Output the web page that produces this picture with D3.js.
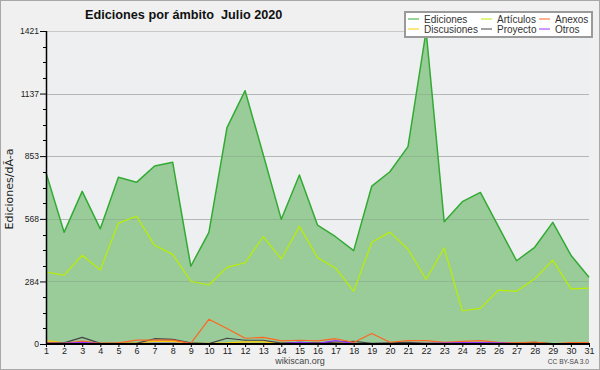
<!DOCTYPE html>
<html><head><meta charset="utf-8">
<script src="https://cdn.jsdelivr.net/npm/d3@7"></script>
<style>body{margin:0;background:#f0f0f0}svg{display:block}</style>
</head><body>
<svg id="c" width="600" height="370"></svg>
<script>
const days = d3.range(1, 32);
const ediciones = [778,507,693,523,757,734,808,825,353,507,982,1150,860,566,767,540,487,424,717,782,896,1421,555,646,688,533,378,439,552,403,303];
const articulos = [327,313,403,336,549,580,448,407,285,268,348,369,487,386,534,393,344,239,462,508,430,294,436,151,162,245,239,296,381,250,254];
const discusiones = [15,5,8,3,3,5,12,12,3,3,5,10,10,3,5,5,8,3,2,2,3,3,2,3,3,3,2,3,2,2,2];
const anexos = [5,3,13,3,5,18,18,18,3,112,70,26,30,14,17,14,24,7,48,8,15,15,7,12,15,7,5,9,1,6,6];
const proyecto = [5,5,30,3,3,3,24,21,5,2,26,17,17,4,8,5,8,12,3,5,8,3,3,3,3,3,3,8,2,2,2];
const otros = [3,3,7,2,2,2,3,3,2,2,2,2,2,2,8,3,15,2,2,2,2,3,4,6,6,5,2,2,2,2,2];
const yTicks = [0,284,568,853,1137,1421];
const title = "Ediciones por ámbito  Julio 2020";
const yLabel = "Ediciones/dÃ-a";
const legendItems = [
  {name:"Ediciones", color:"#33aa33"},
  {name:"Artículos", color:"#bbee00"},
  {name:"Anexos", color:"#ff6622"},
  {name:"Discusiones", color:"#ffcc00"},
  {name:"Proyecto", color:"#444444"},
  {name:"Otros", color:"#9933ff"}
];

const svg = d3.select("#c");
const F = "'Liberation Sans', Arial, sans-serif";
svg.append("rect").attr("x",0.5).attr("y",0.5).attr("width",599).attr("height",369)
  .attr("fill","#f0f0f0").attr("stroke","#a8a8a8");

const x = d3.scaleLinear().domain([1,31]).range([46,589]);
const y = d3.scaleLinear().domain([0,1421]).range([344,31]);

svg.append("rect").attr("x",46).attr("y",31).attr("width",543).attr("height",313).attr("fill","#eeeff1");

svg.append("g").selectAll("line").data(yTicks.slice(1)).join("line")
  .attr("x1",46).attr("x2",589).attr("y1",d=>Math.round(y(d))+0.5).attr("y2",d=>Math.round(y(d))+0.5)
  .attr("stroke","#c9c9cb").attr("stroke-width",1);

const area = d3.area().x((d,i)=>x(days[i])).y0(y(0)).y1(d=>y(d));
svg.append("path").datum(ediciones).attr("d",area).attr("fill","#99cc99");

svg.append("g").selectAll("line").data(yTicks.slice(1,-1)).join("line")
  .attr("x1",46).attr("x2",589).attr("y1",d=>Math.round(y(d))+0.5).attr("y2",d=>Math.round(y(d))+0.5)
  .attr("stroke","#747474").attr("stroke-opacity",0.22).attr("stroke-width",1);

const line = d3.line().x((d,i)=>x(days[i])).y(d=>y(d));
const series = [
  {v:ediciones, c:"#33aa33", w:1.5},
  {v:articulos, c:"#bbee00", w:1.2},
  {v:discusiones, c:"#ffcc00", w:1.2},
  {v:proyecto, c:"#444444", w:1.2},
  {v:anexos, c:"#ff6622", w:1.2},
  {v:otros, c:"#9933ff", w:1.2}
];
series.forEach(s=>{
  svg.append("path").datum(s.v).attr("d",line).attr("fill","none")
    .attr("stroke",s.c).attr("stroke-width",s.w).attr("stroke-linejoin","round");
});

const yAxis = d3.axisLeft(y).tickValues(yTicks).tickSize(6).tickPadding(1).tickFormat(d3.format("d"));
const gy = svg.append("g").attr("transform","translate(46,0)").call(yAxis);
gy.select(".domain").remove();
gy.selectAll("text").attr("font-family",F).attr("font-size",8.5).attr("fill","#222");
gy.selectAll("line").attr("stroke","#000");
const minor = [];
for (let i=0;i<yTicks.length-1;i++) for (let k=1;k<4;k++) minor.push(yTicks[i]+(yTicks[i+1]-yTicks[i])*k/4);
svg.append("g").selectAll("line").data(minor).join("line")
  .attr("x1",43).attr("x2",46).attr("y1",d=>Math.round(y(d))+0.5).attr("y2",d=>Math.round(y(d))+0.5)
  .attr("stroke","#000");
svg.append("line").attr("x1",46.5).attr("x2",46.5).attr("y1",31).attr("y2",345).attr("stroke","#000").attr("stroke-width",1.5);

const xAxis = d3.axisBottom(x).tickValues(days).tickSize(3).tickPadding(1).tickFormat(d3.format("d"));
const gx = svg.append("g").attr("transform","translate(0,344)").call(xAxis);
gx.select(".domain").remove();
gx.selectAll("text").attr("font-family",F).attr("font-size",9).attr("fill","#222");
gx.selectAll("line").attr("stroke","#000");
svg.append("line").attr("x1",46).attr("x2",590).attr("y1",344).attr("y2",344).attr("stroke","#000").attr("stroke-width",2);

svg.append("text").attr("x",85).attr("y",18.5).attr("font-family",F).attr("font-weight","bold")
  .attr("font-size",12.7).attr("fill","#111").style("white-space","pre").text(title);

svg.append("text").attr("transform","translate(13,189) rotate(-90)").attr("text-anchor","middle")
  .attr("font-family","'DejaVu Sans', sans-serif").attr("font-size",11).attr("fill","#222").text(yLabel);

svg.append("text").attr("x",300).attr("y",364).attr("text-anchor","middle").attr("font-family",F)
  .attr("font-size",9).attr("fill","#444").text("wikiscan.org");
svg.append("text").attr("x",589).attr("y",364).attr("text-anchor","end").attr("font-family",F)
  .attr("font-size",6.6).attr("fill","#444").text("CC BY-SA 3.0");

const lg = svg.append("g");
lg.append("rect").attr("x",405).attr("y",12).attr("width",187).attr("height",25)
  .attr("fill","#fff").attr("stroke","#9a9a9a").attr("stroke-width",2);
const colX = [408,481,539];
legendItems.forEach((d,i)=>{
  const col = i%3, row = Math.floor(i/3);
  const ly = 19 + row*10;
  lg.append("line").attr("x1",colX[col]).attr("x2",colX[col]+11).attr("y1",ly).attr("y2",ly)
    .attr("stroke",d.color).attr("stroke-width",1);
  lg.append("text").attr("x",colX[col]+16).attr("y",ly+3.5).attr("font-family",F)
    .attr("font-size",10).attr("fill","#333").text(d.name);
});
</script>
</body></html>
